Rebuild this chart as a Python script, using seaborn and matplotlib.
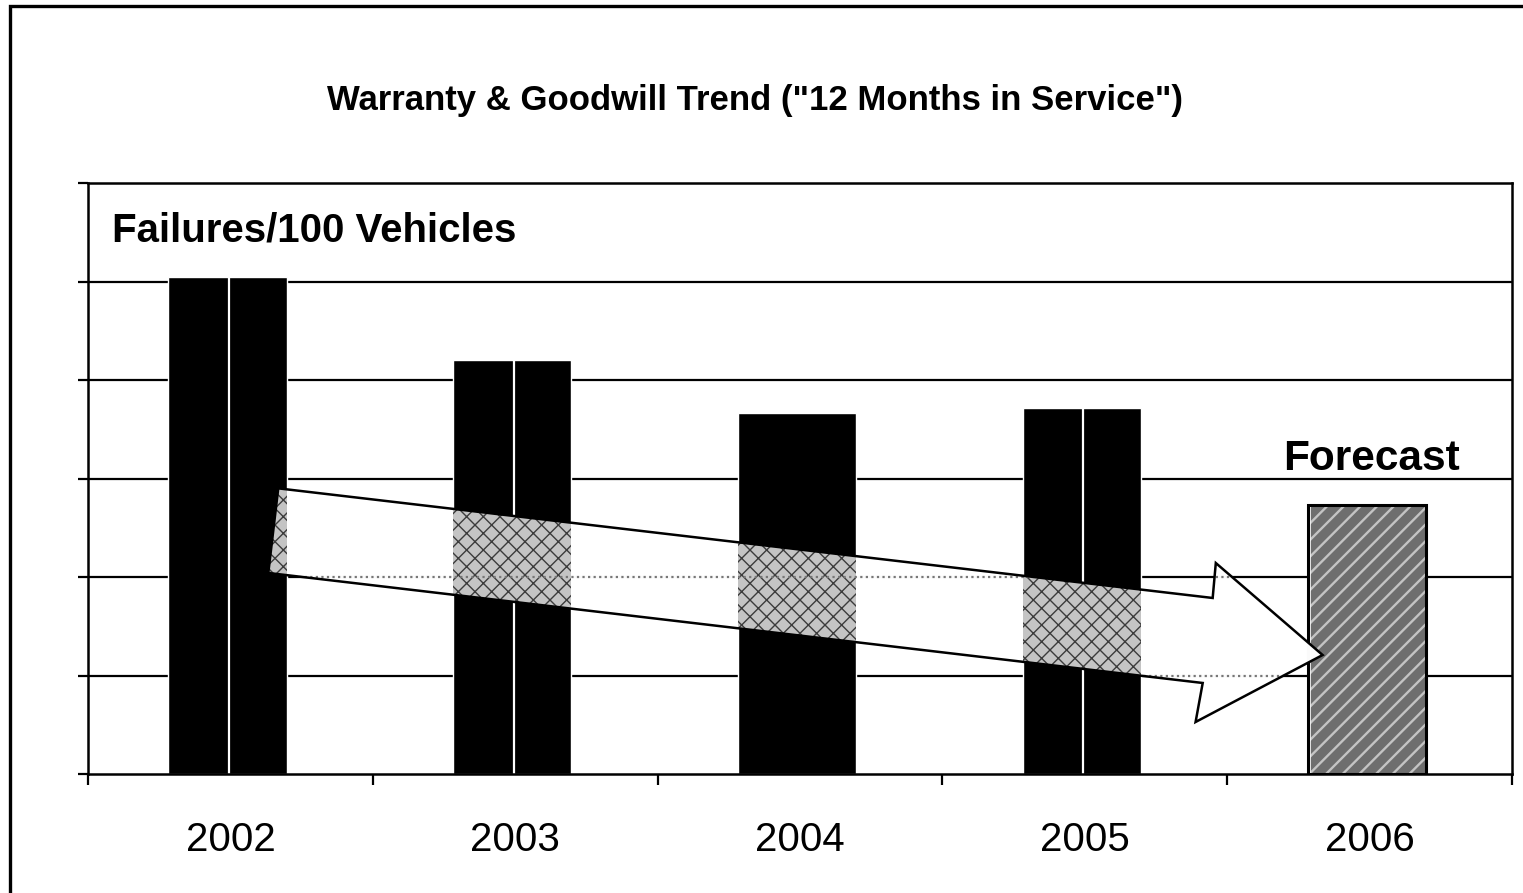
import matplotlib
matplotlib.use("Agg")
import matplotlib.pyplot as plt
import seaborn as sns
import numpy as np
import pandas as pd
from matplotlib.patches import Polygon, Rectangle
from matplotlib.ticker import FixedLocator

# ---- data ----
years = ["2002", "2003", "2004", "2005", "2006"]
failures = [5.05, 4.20, 3.66, 3.72, 2.73]
bar_colors = ["#000000", "#000000", "#000000", "#000000", "#6e6e6e"]
split_bars = ["2002", "2003", "2005"]          # bars drawn with a thin white divider
title_text = 'Warranty & Goodwill Trend ("12 Months in Service")'
ylabel_text = "Failures/100 Vehicles"
forecast_text = "Forecast"
# trend arrow outline (category units, value units)
arrow_x = [0.168, 3.449, 3.460, 3.835, 3.389, 3.414, 0.133]
arrow_y = [2.90, 1.787, 2.142, 1.208, 0.528, 0.924, 2.041]

sns.set_theme(style="white")
plt.rcParams["font.family"] = ["Liberation Sans", "DejaVu Sans"]
plt.rcParams["hatch.linewidth"] = 1.7

W, H = 1523, 893
fig = plt.figure(figsize=(W / 100, H / 100), dpi=100)
ax = fig.add_axes([88 / W, (H - 774) / H, (1512 - 88) / W, (774 - 183) / H])

df = pd.DataFrame({"year": years, "value": failures})
sns.barplot(data=df, x="year", y="value", hue="year", palette=bar_colors,
            saturation=1, width=0.415, legend=False, ax=ax, zorder=2)

bars = [c.patches[0] for c in ax.containers] if len(ax.containers) == len(years) else list(ax.patches)
for b in bars:
    b.set_x(b.get_x() - 0.01)

# forecast bar styling
fc = bars[-1]
fc.set_hatch("//")
fc.set_edgecolor("#c4c4c4")
fc.set_linewidth(0)
if hasattr(fc, "set_hatch_linewidth"):
    fc.set_hatch_linewidth(1.7)
ax.add_patch(Rectangle(fc.get_xy(), fc.get_width(), fc.get_height(), fill=False,
                       edgecolor="black", lw=2.2, zorder=2.6))
ax.vlines(fc.get_x() + 0.009, 0, fc.get_height() - 0.02, color="white", lw=1.2, zorder=2.55)

# white divider lines in the bars
for i, y in enumerate(years):
    if y in split_bars:
        b = bars[i]
        ax.vlines(b.get_x() + b.get_width() / 2 + 0.005, 0, failures[i],
                  color="white", lw=1.6, zorder=2.5)

ax.set_xlim(-0.5, len(years) - 0.5)
ax.set_ylim(0, 6)

# gridlines & spines
for yv in range(1, 6):
    ax.axhline(yv, color="black", lw=1.6, zorder=1)
for s in ["left", "bottom", "right", "top"]:
    ax.spines[s].set_visible(True)
    ax.spines[s].set_color("black")
    ax.spines[s].set_linewidth(1.8)

ax.set_yticks(range(0, 7))
ax.set_yticklabels([])
ax.tick_params(axis="y", which="major", direction="out", length=7.5, width=1.6,
               color="black", left=True)
ax.xaxis.set_minor_locator(FixedLocator(np.arange(-0.5, len(years), 1.0)))
ax.tick_params(axis="x", which="minor", direction="out", length=8, width=1.6,
               color="black", bottom=True)
ax.tick_params(axis="x", which="major", length=0, pad=34, labelsize=29,
               labelcolor="black")
ax.set_xlabel("")
ax.set_ylabel("")

# trend arrow
arrow = Polygon(np.column_stack([arrow_x, arrow_y]), closed=True,
                facecolor="white", edgecolor="none", alpha=0.985, zorder=3)
ax.add_patch(arrow)
with plt.rc_context({"hatch.linewidth": 1.0}):
    for i, b in enumerate(bars[:-1]):
        r = Rectangle(b.get_xy(), b.get_width(), b.get_height(), facecolor="#c4c4c4",
                      edgecolor="#3c3c3c", hatch="xx", lw=0, zorder=3.3)
        if hasattr(r, "set_hatch_linewidth"):
            r.set_hatch_linewidth(1.0)
        ax.add_patch(r)
        r.set_clip_path(arrow)
for yv in range(1, 6):
    ln = ax.axhline(yv, color="#777777", lw=1.6, ls=(0, (1, 1.5)), zorder=3.5)
    ln.set_clip_path(arrow)
ax.add_patch(Polygon(np.column_stack([arrow_x, arrow_y]), closed=True,
                     fill=False, edgecolor="black", lw=1.8, zorder=4))

# texts
ax.text(24 / (1512 - 88), (774 - 241) / (774 - 183), ylabel_text, transform=ax.transAxes,
        ha="left", va="baseline", fontsize=29, fontweight="bold", color="black")
ax.annotate(forecast_text, xy=(fc.get_x() + fc.get_width() / 2, failures[-1]),
            xytext=(3.5, 25), textcoords="offset points", ha="center", va="baseline",
            fontsize=30.5, fontweight="bold", color="black")
fig.text(755 / W, 1 - 110 / H, title_text, ha="center", va="baseline",
         fontsize=25, fontweight="bold", color="black")

# figure border (top and left visible)
fig.add_artist(Rectangle((10 / W, -0.2), 1.5, 1 - 6 / H + 0.2,
                         transform=fig.transFigure, fill=False,
                         edgecolor="black", lw=2.4))

fig.savefig("out.png", dpi=100)
